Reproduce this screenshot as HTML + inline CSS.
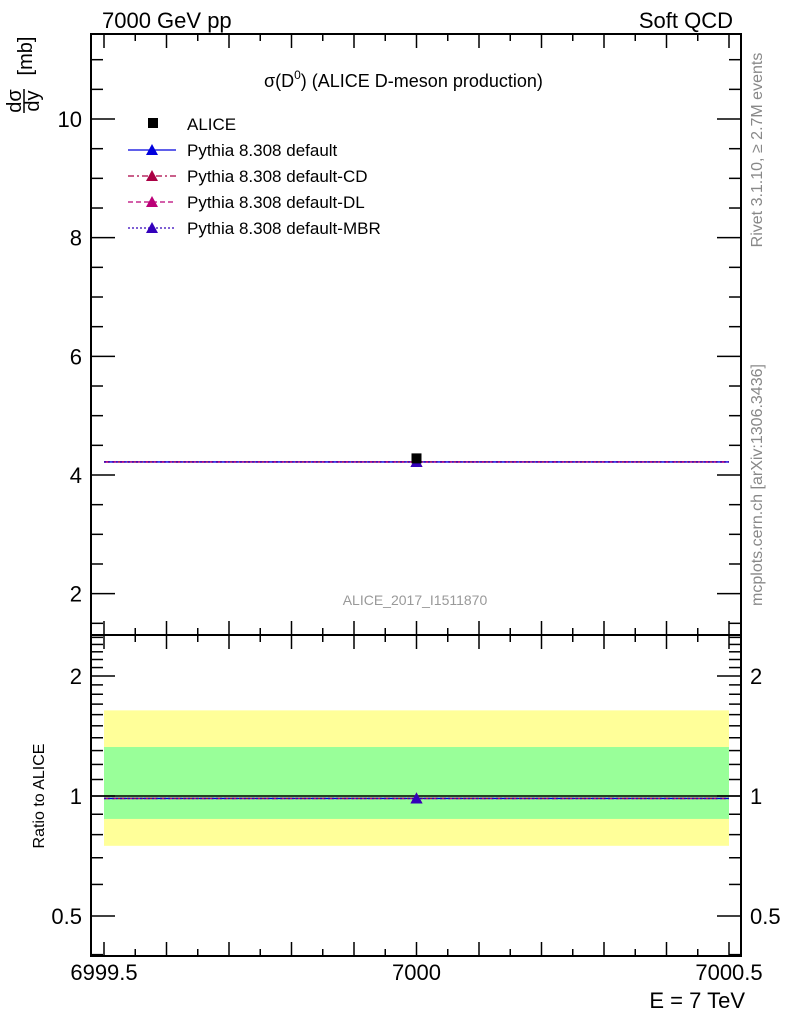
<!DOCTYPE html>
<html><head><meta charset="utf-8"><style>
body{margin:0;background:#fff;}
svg{display:block;font-family:"Liberation Sans",sans-serif;}
</style></head><body>
<svg id="c" width="786" height="1024" viewBox="0 0 786 1024"></svg>
<script>
const energies=[7000];
const aliceVal=[4.28];
const aliceErr=[0.0];
const mcNames=["Pythia 8.308 default","Pythia 8.308 default-CD","Pythia 8.308 default-DL","Pythia 8.308 default-MBR"];
const mcVals=[[4.22],[4.22],[4.22],[4.22]];
const bandInner=[0.876,1.327];
const bandOuter=[0.75,1.64];
const yTicks=[2,4,6,8,10];
const rTicks=[0.5,1,2];
const xTicks=[6999.5,7000,7000.5];
const mcColors=["#0000dd","#aa0044","#bb0077","#3300bb"];
const mcDash=["","6,3,2,3","5,3","2,2"];

const NS="http://www.w3.org/2000/svg";
const svg=document.getElementById('c');
function el(t,a,p){const e=document.createElementNS(NS,t);for(const k in a)e.setAttribute(k,a[k]);(p||svg).appendChild(e);return e;}
const L=91,R=741,T=34,M=635,B=956;
const X=v=>104+(v-6999.5)*625;
const Y=v=>475-(v-4)*59.33;
const RY=v=>796-Math.log2(v)*120;

let e=el('rect',{x:X(6999.5),y:RY(bandOuter[1]),width:X(7000.5)-X(6999.5),height:RY(bandOuter[0])-RY(bandOuter[1]),fill:'#ffff99'});

e=el('rect',{x:X(6999.5),y:RY(bandInner[1]),width:X(7000.5)-X(6999.5),height:RY(bandInner[0])-RY(bandInner[1]),fill:'#99ff99'});

el('line',{x1:L,x2:R,y1:RY(1),y2:RY(1),stroke:'#000','stroke-width':1.5});

e=el('rect',{x:L,y:T,width:R-L,height:M-T,fill:'none',stroke:'#000','stroke-width':2});

e=el('rect',{x:L,y:M,width:R-L,height:B-M,fill:'none',stroke:'#000','stroke-width':2});


for(let i=0;i<=20;i++){const v=6999.5+i*0.05;const x=X(v);const big=i%2==0;const len=big?14:7;
 [[T,1],[M,-1],[M,1],[B,-1]].forEach(([y0,d])=>{el('line',{x1:x,x2:x,y1:y0,y2:y0+d*len,stroke:'#000','stroke-width':1.5});});}
xTicks.forEach(v=>{const t=el('text',{x:X(v),y:980,'font-size':22,'text-anchor':'middle'});t.textContent=v;
 });
for(let v=1.5;v<=11.4;v+=0.5){const y=Y(v);const big=Math.abs(v-Math.round(v/2)*2)<1e-6;const len=big?24:12;
 el('line',{x1:L,x2:L+len,y1:y,y2:y,stroke:'#000','stroke-width':1.5});el('line',{x1:R,x2:R-len,y1:y,y2:y,stroke:'#000','stroke-width':1.5});}
yTicks.forEach(v=>{const t=el('text',{x:82,y:Y(v)+8,'font-size':22,'text-anchor':'end'});t.textContent=v;
 });
const rminor=[0.4,0.5,0.6,0.7,0.8,0.9,1,1.1,1.2,1.3,1.4,1.5,1.6,1.7,1.8,1.9,2,2.1,2.2,2.3,2.4,2.5];
rminor.forEach(v=>{const y=RY(v);if(y<M||y>B)return;const big=rTicks.includes(v);const len=big?24:12;
 el('line',{x1:L,x2:L+len,y1:y,y2:y,stroke:'#000','stroke-width':1.5});el('line',{x1:R,x2:R-len,y1:y,y2:y,stroke:'#000','stroke-width':1.5});});
rTicks.forEach(v=>{[[82,'end'],[750,'start']].forEach(([x,a])=>{const t=el('text',{x:x,y:RY(v)+8,'font-size':22,'text-anchor':a});t.textContent=v;
 });});

mcVals.forEach((s,i)=>{s.forEach((v,j)=>{const y=Y(v);
 const l=el('line',{x1:X(energies[j]-0.5),x2:X(energies[j]+0.5),y1:y,y2:y,stroke:mcColors[i],'stroke-width':1.3,'stroke-dasharray':mcDash[i]});
 
 const p=el('path',{d:`M${X(energies[j])-6},${y+5}L${X(energies[j])+6},${y+5}L${X(energies[j])},${y-6}Z`,fill:mcColors[i]});
 
 const r=v/aliceVal[j];const ry=RY(r);
 el('line',{x1:X(energies[j]-0.5),x2:X(energies[j]+0.5),y1:ry,y2:ry,stroke:mcColors[i],'stroke-width':1.3,'stroke-dasharray':mcDash[i]});
 const q=el('path',{d:`M${X(energies[j])-6},${ry+5}L${X(energies[j])+6},${ry+5}L${X(energies[j])},${ry-6}Z`,fill:mcColors[i]});
 });});
aliceVal.forEach((v,j)=>{const r=el('rect',{x:X(energies[j])-5,y:Y(v)-5,width:10,height:10,fill:'#000'});
 });

const lg=el('g',{});
el('rect',{x:148,y:118,width:10,height:10,fill:'#000'},lg);
let t=el('text',{x:187,y:130,'font-size':17},lg);t.textContent='ALICE';
mcNames.forEach((n,i)=>{const y=150+i*26;
 el('line',{x1:128,x2:176,y1:y,y2:y,stroke:mcColors[i],'stroke-width':1.3,'stroke-dasharray':mcDash[i]},lg);
 el('path',{d:`M${146},${y+5}L${158},${y+5}L${152},${y-6}Z`,fill:mcColors[i]},lg);
 const tt=el('text',{x:187,y:y+6,'font-size':17},lg);tt.textContent=n;
 });

function txt(x,y,s,str,attrs,name){const a=Object.assign({x:x,y:y,'font-size':s},attrs||{});const q=el('text',a);q.innerHTML=str;return q;}
txt(102,28,22,'7000 GeV pp',{},'header-left');
txt(733,28,22,'Soft QCD',{'text-anchor':'end'},'header-right');
txt(264,87,18,'σ(D<tspan font-size="12" dy="-8">0</tspan><tspan dy="8">) (ALICE D-meson production)</tspan>',{},'plot-title');
txt(415,605,14,'ALICE_2017_I1511870',{'text-anchor':'middle',fill:'#999'},'analysis-label');
txt(745,1008,22,'E = 7 TeV',{'text-anchor':'end'},'x-axis-title');
txt(0,0,16,'Ratio to ALICE',{transform:'translate(44,796) rotate(-90)','text-anchor':'middle'},'ratio-axis-title');
txt(0,0,20,'[mb]',{transform:'translate(32,56) rotate(-90)','text-anchor':'middle'},'y-axis-unit');
const yg=el('g',{transform:'translate(24,101) rotate(-90)'});
el('text',{x:0,y:-3,'font-size':20,'text-anchor':'middle'},yg).textContent='dσ';
el('line',{x1:-12,x2:12,y1:0,y2:0,stroke:'#000','stroke-width':1.5},yg);
el('text',{x:0,y:15,'font-size':20,'text-anchor':'middle'},yg).textContent='dy';
txt(0,0,16,'Rivet 3.1.10, ≥ 2.7M events',{transform:'translate(762,150) rotate(-90)','text-anchor':'middle',fill:'#888'},'rivet-label');
txt(0,0,16,'mcplots.cern.ch [arXiv:1306.3436]',{transform:'translate(762,485) rotate(-90)','text-anchor':'middle',fill:'#888'},'mcplots-label');
</script>
</body></html>
